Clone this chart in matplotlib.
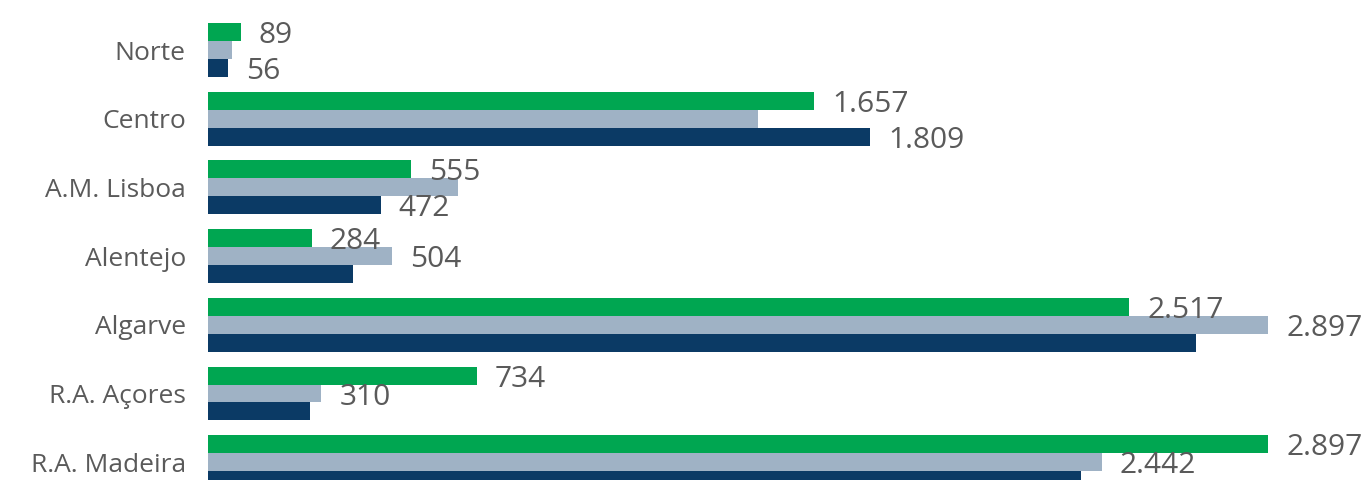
import matplotlib
matplotlib.use('Agg')
import matplotlib.pyplot as plt
import numpy as np

matplotlib.rc('font', family=['Open Sans', 'DejaVu Sans'])

# data (thousands separator is '.')
regions = ['Norte', 'Centro', 'A.M. Lisboa', 'Alentejo', 'Algarve',
           'R.A. Açores', 'R.A. Madeira']
green_vals = [89, 1657, 555, 284, 2517, 734, 2897]
gray_vals = [66, 1503, 683, 504, 2897, 310, 2442]
navy_vals = [56, 1809, 472, 396, 2700, 279, 2386]

# which bars carry a value label in the original
green_show = [True, True, True, True, True, True, True]
gray_show = [False, False, False, True, True, True, True]
navy_show = [True, True, True, False, False, False, False]

colors = ['#00A651', '#9FB2C5', '#0B3A65']
text_col = '#5a5a5a'


def fmt(v):
    return '{:,}'.format(v).replace(',', '.')


fig = plt.figure(figsize=(13.61, 4.8), dpi=100)
ax = fig.add_axes([208 / 1361, 0, 1 - 208 / 1361, 1])

y = np.arange(len(regions))
h = 0.262
series = [(green_vals, green_show), (gray_vals, gray_show), (navy_vals, navy_show)]

for i, (vals, show) in enumerate(series):
    pos = y + (i - 1) * h
    ax.barh(pos, vals, height=h, color=colors[i], linewidth=0)
    for p, v, s in zip(pos, vals, show):
        if s:
            ax.annotate(fmt(v), xy=(v, p), xytext=(13, 0),
                        textcoords='offset points', va='center_baseline',
                        ha='left', fontsize=21.5, color=text_col)

ax.set_xlim(0, 2897 * (1361 - 208) / 1060)
ax.set_ylim(430 / 68.7, -50 / 68.7)
ax.set_yticks(y)
ax.set_yticklabels(regions, fontsize=19, color=text_col)
ax.tick_params(axis='y', length=0, pad=16)
ax.set_xticks([])
for s in ax.spines.values():
    s.set_visible(False)

fig.savefig('out.png', dpi=100)
